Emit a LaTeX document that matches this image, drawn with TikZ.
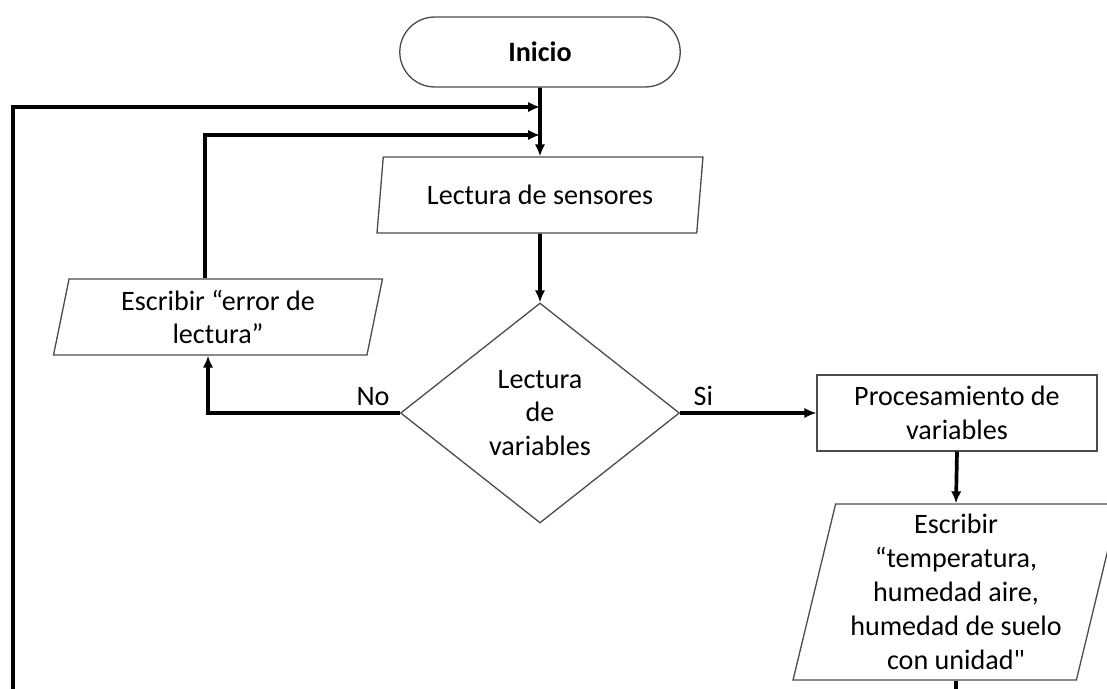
\documentclass[tikz,border=0pt]{standalone}
\usepackage{fontspec}
\setmainfont[Ligatures=TeXOff]{Carlito}
\usetikzlibrary{shapes.geometric,shapes.misc,arrows.meta}

\begin{document}
\begin{tikzpicture}[x=0.02cm,y=-0.02cm,
	font=\fontsize{16}{19.3}\selectfont,
	caja/.style={draw=black!70, line width=0.75pt, align=center, inner sep=1pt},
	inicio/.style={caja, rounded rectangle, minimum width=5.68cm, minimum height=1.4cm, font=\fontsize{16}{19.3}\selectfont\bfseries},
	datos/.style={caja, trapezium, trapezium left angle=75, trapezium right angle=105, trapezium stretches body, minimum width=6.52cm, minimum height=1.52cm},
	proceso/.style={caja, rectangle, minimum width=5.6cm, minimum height=1.52cm},
	decision/.style={caja, diamond, aspect=1.27, minimum width=5.58cm, minimum height=4.4cm},
	linea/.style={line width=2.1pt},
	flecha/.style={linea, -{Latex[length=2.4mm,width=2.1mm]}}]
	\useasboundingbox (0,0) rectangle (1107,689);
	\clip (0,0) rectangle (1107,689);

	\node[inicio] (inicio) at (540,52) {Inicio};
	\node[datos] (lectura) at (540,195) {Lectura de sensores};
	\node[decision] (decision) at (540,413) {Lectura\\de\\variables};
	\node[datos, minimum width=6.58cm] (error) at (218,317) {Escribir “error de\\lectura”};
	\node[proceso] (proceso) at (957,413) {Procesamiento de\\variables};
	\node[datos, minimum height=3.52cm] (salida) at (956,592) {Escribir\\“temperatura,\\humedad aire,\\humedad de suelo\\con unidad"};

	\coordinate (union1) at (540,107);
	\coordinate (union2) at (540,135);
	\coordinate (retorno) at (13,720);
	\coordinate (fin) at ([yshift=-0.6cm]salida.south);

	\draw[flecha] (inicio.south) -- (lectura.north);
	\draw[flecha] (retorno) |- (union1);
	\draw[flecha] ([xshift=-0.26cm]error.north) |- (union2);
	\draw[flecha] (lectura.south) -- (decision.north);
	\draw[flecha] (decision.west) -| node[pos=0.07, above] {No} ([xshift=-0.2cm]error.south);
	\draw[flecha] (decision.east) -- node[pos=0.17, above] {Si} (proceso.west);
	\draw[flecha] (proceso.south) -- (salida.north);
	\draw[linea] (salida.south) -- (fin);
\end{tikzpicture}
\end{document}
